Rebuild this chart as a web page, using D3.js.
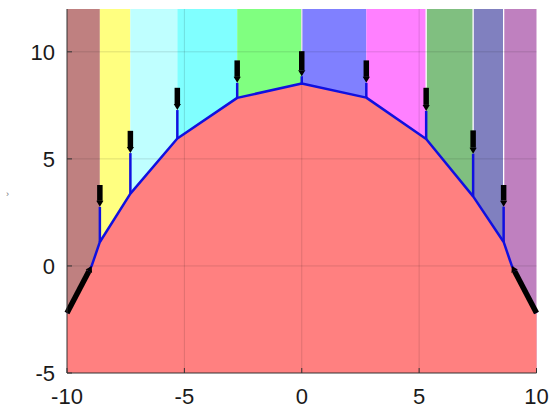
<!DOCTYPE html>
<html><head><meta charset="utf-8">
<script src="https://cdn.jsdelivr.net/npm/d3@7"></script>
<style>html,body{margin:0;padding:0;background:#fff;}svg{display:block;}</style>
</head><body>
<script>
// ---- data ----
const bandEdges = [-10, -8.6, -7.3, -5.3, -2.75, 0, 2.75, 5.3, 7.3, 8.6, 10];
const bandColors = ["#bf8080", "#ffff80", "#bfffff", "#80ffff", "#80ff80", "#8080ff", "#ff80ff", "#80bf80", "#8080bf", "#bf80bf"];
const curveX = [-10, -8.95, -8.6, -7.3, -5.3, -2.75, 0, 2.75, 5.3, 7.3, 8.6, 8.95, 10];
const curveY = [-2.2, 0, 1.12, 3.38, 5.95, 7.85, 8.52, 7.86, 5.93, 3.25, 1.12, 0, -2.2];
const stemX = [-8.6, -7.3, -5.3, -2.75, 0, 2.75, 5.3, 7.3, 8.6];
const stemBase = [1.12, 3.38, 5.95, 7.85, 8.52, 7.86, 5.93, 3.25, 1.12];
const arrowTop = [3.78, 6.31, 8.32, 9.6, 10.03, 9.6, 8.32, 6.33, 3.78];
const arrowTip = [2.76, 5.27, 7.28, 8.55, 8.86, 8.55, 7.24, 5.24, 2.77];
const diagStartX = [-10, 10];
const diagStartY = [-2.2, -2.2];
const diagTipX = [-8.95, 8.95];
const diagTipY = [0, 0];
const whiteEdges = [0, 5.3, 7.3, 8.6];
const xTicks = [-10, -5, 0, 5, 10];
const yTicks = [-5, 0, 5, 10];

// ---- layout ----
const W = 552, H = 410;
const m = {left: 67, right: 15.5, top: 9, bottom: 37};
const svg = d3.select("body").append("svg").attr("width", W).attr("height", H);
const x = d3.scaleLinear().domain([-10, 10]).range([m.left, W - m.right]);
const y = d3.scaleLinear().domain([-5, 12]).range([H - m.bottom, m.top]);
const g = svg.append("g");

// bands
g.selectAll("rect.band").data(bandColors).join("rect")
  .attr("x", (d, i) => x(bandEdges[i]))
  .attr("width", (d, i) => x(bandEdges[i + 1]) - x(bandEdges[i]))
  .attr("y", y(12)).attr("height", y(-5) - y(12))
  .attr("fill", d => d);

// thin white seams
g.selectAll("line.seam").data(whiteEdges).join("line")
  .attr("x1", d => x(d)).attr("x2", d => x(d))
  .attr("y1", y(12)).attr("y2", (d) => y(arrowTop[stemX.indexOf(d)]))
  .attr("stroke", "#fff").attr("stroke-width", 1.3);

// red area
const pts = curveX.map((v, i) => [v, curveY[i]]);
const area = d3.area().x(d => x(d[0])).y0(y(-5)).y1(d => y(d[1]));
g.append("path").datum(pts).attr("d", area).attr("fill", "#ff8080");

// grid
const grid = svg.append("g").attr("stroke", "rgba(0,0,0,0.13)").attr("stroke-width", 1);
grid.selectAll("line.gx").data(xTicks.slice(1, -1)).join("line")
  .attr("x1", d => x(d)).attr("x2", d => x(d)).attr("y1", y(12)).attr("y2", y(-5));
grid.selectAll("line.gy").data(yTicks.slice(1)).join("line")
  .attr("y1", d => y(d)).attr("y2", d => y(d)).attr("x1", x(-10)).attr("x2", x(10));

// blue curve
const line = d3.line().x(d => x(d[0])).y(d => y(d[1]));
svg.append("path").datum(pts).attr("d", line)
  .attr("fill", "none").attr("stroke", "#1010e0").attr("stroke-width", 2.5).attr("stroke-linejoin", "round");
// stems
svg.selectAll("line.stem").data(stemX).join("line")
  .attr("x1", d => x(d)).attr("x2", d => x(d))
  .attr("y1", (d, i) => y(stemBase[i])).attr("y2", (d, i) => y(arrowTip[i]))
  .attr("stroke", "#1010e0").attr("stroke-width", 2.5);

// arrows
function arrow(x1, y1, x2, y2) {
  const px1 = x(x1), py1 = y(y1), px2 = x(x2), py2 = y(y2);
  const dx = px2 - px1, dy = py2 - py1, L = Math.hypot(dx, dy);
  const ux = dx / L, uy = dy / L, nx = -uy, ny = ux;
  const hl = 6, hw = 3.6;
  const bx = px2 - ux * hl, by = py2 - uy * hl;
  svg.append("line").attr("x1", px1).attr("y1", py1).attr("x2", bx).attr("y2", by)
    .attr("stroke", "#000").attr("stroke-width", 5.5);
  svg.append("path")
    .attr("d", `M${px2},${py2}L${bx + nx * hw},${by + ny * hw}L${bx - nx * hw},${by - ny * hw}Z`)
    .attr("fill", "#000");
}
stemX.forEach((v, i) => arrow(v, arrowTop[i], v, arrowTip[i]));
diagStartX.forEach((v, i) => arrow(v, diagStartY[i], diagTipX[i], diagTipY[i]));

// axes
const axColor = "#333";
svg.append("line").attr("x1", x(-10)).attr("x2", x(-10)).attr("y1", y(12)).attr("y2", y(-5))
  .attr("stroke", axColor).attr("stroke-width", 1);
svg.append("line").attr("x1", x(-10)).attr("x2", x(10)).attr("y1", y(-5)).attr("y2", y(-5))
  .attr("stroke", axColor).attr("stroke-width", 1);
svg.selectAll("line.xt").data(xTicks).join("line")
  .attr("x1", d => x(d)).attr("x2", d => x(d)).attr("y1", y(-5)).attr("y2", y(-5) - 5)
  .attr("stroke", axColor);
svg.selectAll("line.yt").data(yTicks).join("line")
  .attr("y1", d => y(d)).attr("y2", d => y(d)).attr("x1", x(-10)).attr("x2", x(-10) + 5)
  .attr("stroke", axColor);

const font = "'Liberation Sans', Arial, Helvetica, sans-serif";
svg.selectAll("text.xl").data(xTicks).join("text")
  .attr("x", d => x(d)).attr("y", 404)
  .attr("text-anchor", "middle").attr("font-family", font).attr("font-size", 22)
  .attr("fill", "#1a1a1a").text(d => String(d));
svg.selectAll("text.yl").data(yTicks).join("text")
  .attr("x", 55).attr("y", d => y(d) + 8)
  .attr("text-anchor", "end").attr("font-family", font).attr("font-size", 22)
  .attr("fill", "#1a1a1a").text(d => String(d));
// clipped y-axis label fragment
svg.append("text").attr("x", 6).attr("y", 197).attr("font-family", font).attr("font-size", 9)
  .attr("fill", "#777").text("›");
</script>
</body></html>
